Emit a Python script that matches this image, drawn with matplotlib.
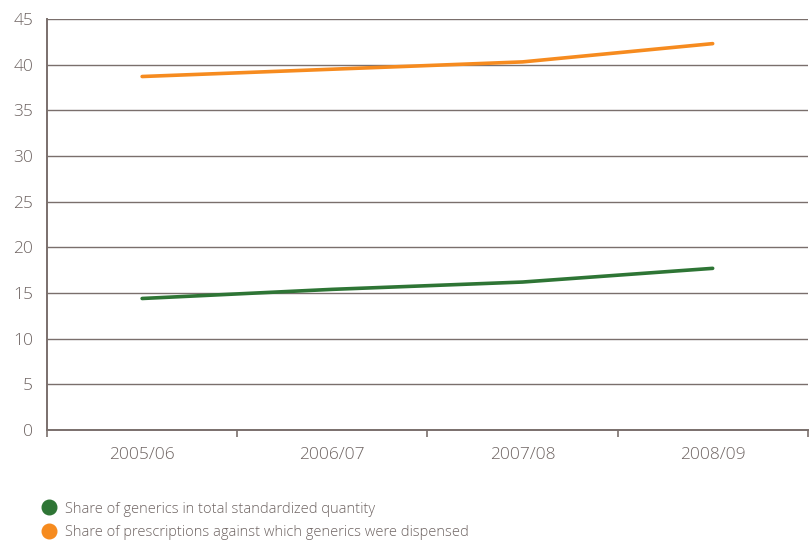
import matplotlib
matplotlib.use("Agg")
import matplotlib.pyplot as plt
from matplotlib.lines import Line2D

# Generic medicines share, per financial year (%)
years = ["2005/06", "2006/07", "2007/08", "2008/09"]
quantity_share = [14.4, 15.4, 16.2, 17.7]
prescription_share = [38.7, 39.5, 40.3, 42.3]
labels = ["Share of generics in total standardized quantity",
          "Share of prescriptions against which generics were dispensed"]

green = "#2e7535"
orange = "#f68b1f"
grey = "#7a6f6c"
text_grey = "#6e6462"

plt.rcParams['font.family'] = ['Open Sans', 'DejaVu Sans']

fig = plt.figure(figsize=(8.11, 5.42), dpi=100)
ax = fig.add_axes([0.058, 0.2066, 0.938, 0.7584])

x = [i + 0.5 for i in range(len(years))]
ax.plot(x, quantity_share, color=green, lw=2.6, solid_capstyle='round')
ax.plot(x, prescription_share, color=orange, lw=2.6, solid_capstyle='round')

ax.set_xlim(0, len(years))
ax.set_ylim(0, 45)
ax.set_yticks(range(0, 46, 5))
ax.yaxis.grid(True, color=grey, lw=1.0)
ax.set_axisbelow(True)

# boundary ticks between years, labels centred under each year
ax.set_xticks(range(len(years) + 1))
ax.set_xticklabels([])
ax.set_xticks(x, minor=True)
ax.set_xticklabels(years, minor=True)
ax.tick_params(axis='x', which='major', length=5, width=1.2, color=grey)
ax.tick_params(axis='x', which='minor', length=0, pad=12,
               labelsize=12.5, labelcolor=text_grey)
ax.tick_params(axis='y', length=0, pad=10, labelsize=12.5,
               labelcolor=text_grey)
for lab in ax.get_xticklabels(minor=True) + ax.get_yticklabels():
    lab.set_fontweight('light')

for side in ['top', 'right']:
    ax.spines[side].set_visible(False)
for side in ['left', 'bottom']:
    ax.spines[side].set_color(grey)
    ax.spines[side].set_linewidth(1.4)

handles = [Line2D([], [], ls='none', marker='o', ms=10.5, color=green),
           Line2D([], [], ls='none', marker='o', ms=10.5, color=orange)]
leg = fig.legend(handles, labels, loc='lower left',
                 bbox_to_anchor=(0.033, -0.021), frameon=False,
                 fontsize=10.5, labelcolor=text_grey, handletextpad=0.5,
                 labelspacing=0.6, handlelength=1.2)
for t in leg.get_texts():
    t.set_fontweight('light')

fig.savefig("out.png", dpi=100, facecolor='white')
